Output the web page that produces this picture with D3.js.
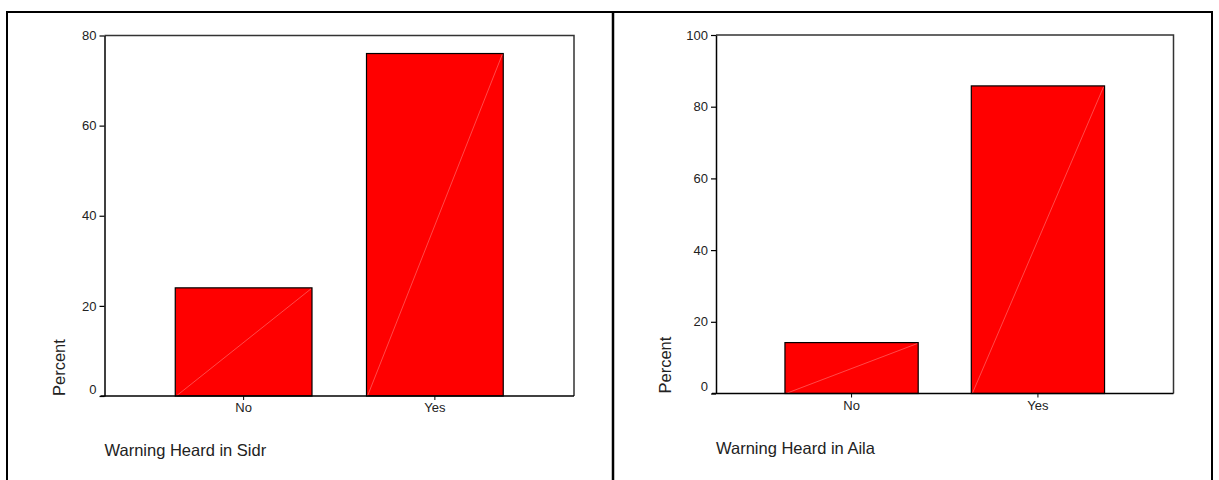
<!DOCTYPE html>
<html>
<head>
<meta charset="utf-8">
<script src="https://cdn.jsdelivr.net/npm/d3@7"></script>
<style>
  body { margin: 0; background: #fff; }
  svg { display: block; }
  text { font-family: Arial, "Liberation Sans", sans-serif; fill: #222; }
</style>
</head>
<body>
<svg id="chart" width="1219" height="480"></svg>
<script>
// Data
const categories = ["No", "Yes"];
const sidrValues = [24.0, 76.0];
const ailaValues = [14.2, 85.8];
const sidrTicks = [0, 20, 40, 60, 80];
const ailaTicks = [0, 20, 40, 60, 80, 100];
const sidrTitle = "Warning Heard in Sidr";
const ailaTitle = "Warning Heard in Aila";
const yLabel = "Percent";

const svg = d3.select("#chart");

// outer frame
svg.append("rect").attr("x", 7).attr("y", 12).attr("width", 1205).attr("height", 470)
  .attr("fill", "none").attr("stroke", "#000").attr("stroke-width", 2);
svg.append("line").attr("x1", 613).attr("x2", 613).attr("y1", 12).attr("y2", 482)
  .attr("stroke", "#000").attr("stroke-width", 2.5);

function panel(cfg) {
  const { panelX, x0, x1, yTop, yBottom, values, ticks, yMax, title } = cfg;
  const g = svg.append("g");
  const x = d3.scaleBand().domain(categories).range([x0, x1])
    .paddingInner(0.285).paddingOuter(0.37);
  const y = d3.scaleLinear().domain([0, yMax]).range([yBottom, yTop]);

  // frame top/right
  g.append("path")
    .attr("d", `M${x0},${yTop}H${x1}V${yBottom}`)
    .attr("fill", "none").attr("stroke", "#333").attr("stroke-width", 1.5);

  // bars
  const bars = g.selectAll("g.bar").data(categories).join("g");
  bars.append("rect")
    .attr("x", d => x(d))
    .attr("y", (d, i) => y(values[i]))
    .attr("width", x.bandwidth())
    .attr("height", (d, i) => y(0) - y(values[i]))
    .attr("fill", "#ff0000").attr("stroke", "#000").attr("stroke-width", 1.2);
  bars.append("line")
    .attr("x1", d => x(d) + 1)
    .attr("y1", y(0))
    .attr("x2", d => x(d) + x.bandwidth() - 1)
    .attr("y2", (d, i) => y(values[i]) + 1)
    .attr("stroke", "#ff7a7a").attr("stroke-width", 0.6);

  // y axis
  const yAxis = d3.axisLeft(y).tickValues(ticks).tickSize(5).tickPadding(3).tickSizeOuter(0);
  const ya = g.append("g").attr("transform", `translate(${x0},0)`).call(yAxis);
  ya.select(".domain").attr("stroke", "#000").attr("stroke-width", 1.5);
  ya.selectAll(".tick line").attr("stroke", "#000").attr("stroke-width", 1.2);
  ya.selectAll(".tick text").attr("font-size", 13).attr("fill", "#222")
    .attr("font-family", "Arial, 'Liberation Sans', sans-serif")
    .attr("dy", d => d === 0 ? "-0.2em" : "0.32em");

  // x axis
  const xAxis = d3.axisBottom(x).tickSize(4).tickPadding(3).tickSizeOuter(0);
  const xa = g.append("g").attr("transform", `translate(0,${yBottom})`).call(xAxis);
  xa.select(".domain").attr("stroke", "#000").attr("stroke-width", 1.5)
    .attr("d", `M${x0 - 4},0H${x1}`);
  xa.selectAll(".tick line").attr("stroke", "#000").attr("stroke-width", 1);
  xa.selectAll(".tick text").attr("font-size", 13).attr("fill", "#222")
    .attr("font-family", "Arial, 'Liberation Sans', sans-serif");

  // y label
  g.append("text")
    .attr("transform", `translate(${panelX + 58},${yBottom}) rotate(-90)`)
    .attr("text-anchor", "start")
    .attr("font-size", 16.5)
    .text(yLabel);

  // title
  g.append("text")
    .attr("x", x0)
    .attr("y", yBottom + 60)
    .attr("font-size", 16.5)
    .text(title);
}

panel({ panelX: 7, x0: 104.5, x1: 574, yTop: 35.5, yBottom: 396,
        values: sidrValues, ticks: sidrTicks, yMax: 80, title: sidrTitle });
panel({ panelX: 613, x0: 716, x1: 1173.5, yTop: 35, yBottom: 393.5,
        values: ailaValues, ticks: ailaTicks, yMax: 100, title: ailaTitle });
</script>
</body>
</html>
